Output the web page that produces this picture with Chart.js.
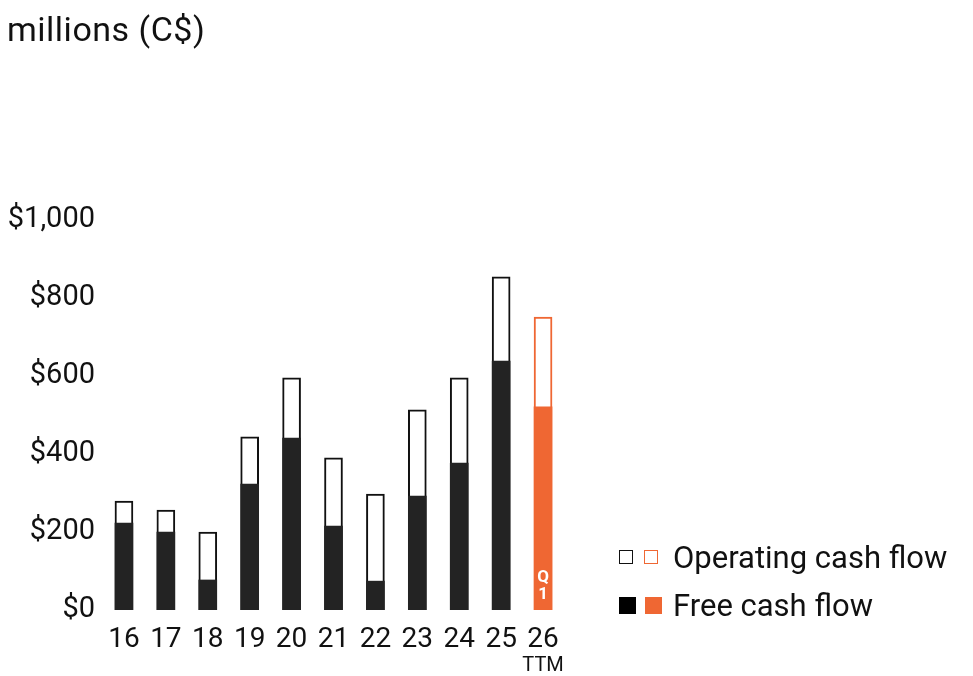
<!DOCTYPE html>
<html>
<head>
<meta charset="utf-8">
<script src="https://cdn.jsdelivr.net/npm/chart.js@4.4.1/dist/chart.umd.min.js"></script>
<style>
  html, body { margin: 0; padding: 0; background: #fff; }
  #wrap { position: relative; width: 973px; height: 676px; font-family: Roboto, "Noto Sans", sans-serif; color: #111; }
  #c { position: absolute; left: 0; top: 0; }
  #title { position: absolute; left: 7px; top: 8px; font-size: 34px; line-height: 42px; letter-spacing: 0.5px; color: #111; }
  .lg { position: absolute; left: 619px; display: flex; align-items: center; font-size: 31px; color: #111; white-space: nowrap; }
  .sq { box-sizing: border-box; display: inline-block; }
</style>
</head>
<body>
<div id="wrap">
  <canvas id="c" width="973" height="676"></canvas>
  <div id="title">millions (C$)</div>
  <div class="lg" style="top:536px;height:42px;">
    <span class="sq" style="width:14px;height:14px;border:1.5px solid #111;background:#fff;margin-right:11px;"></span>
    <span class="sq" style="width:14px;height:14px;border:1.5px solid #EF6733;background:#fff;margin-right:15px;"></span>
    <span>Operating cash flow</span>
  </div>
  <div class="lg" style="top:584px;height:42px;">
    <span class="sq" style="width:17px;height:17px;background:#000;margin-right:9px;"></span>
    <span class="sq" style="width:17px;height:17px;background:#EF6733;margin-right:11px;"></span>
    <span>Free cash flow</span>
  </div>
</div>
<script>
const categories = ['16','17','18','19','20','21','22','23','24','25','26'];
const operatingCashFlow = [279, 256, 200, 444, 595, 390, 297, 513, 595, 854, 751];
const freeCashFlow = [223, 200, 77, 323, 441, 215, 74, 292, 377, 638, 521];
const yTicks = [0, 200, 400, 600, 800, 1000];
const lastSubLabel = 'TTM';
const lastBarLabel = ['Q', '1'];

const DARK = '#232323';
const ORANGE = '#EF6733';
const n = categories.length;
const fillColors = categories.map((_, i) => i === n - 1 ? ORANGE : DARK);
const borderColors = categories.map((_, i) => i === n - 1 ? ORANGE : '#111');

const extraText = {
  id: 'extraText',
  afterDatasetsDraw(chart) {
    const ctx = chart.ctx;
    const x = chart.scales.x;
    const y = chart.scales.y;
    const px = x.getPixelForValue(n - 1);
    ctx.save();
    ctx.fillStyle = '#fff';
    ctx.font = 'bold 17px Roboto';
    ctx.textAlign = 'center';
    ctx.textBaseline = 'middle';
    ctx.fillText(lastBarLabel[0], px, y.getPixelForValue(0) - 32);
    ctx.fillText(lastBarLabel[1], px, y.getPixelForValue(0) - 15);
    ctx.fillStyle = '#111';
    ctx.font = '20px Roboto';
    ctx.fillText(lastSubLabel, px, 666);
    ctx.restore();
  }
};

new Chart(document.getElementById('c'), {
  type: 'bar',
  data: {
    labels: categories,
    datasets: [
      {
        label: 'Free cash flow',
        data: freeCashFlow,
        backgroundColor: fillColors,
        borderWidth: 0,
        grouped: false,
        order: 1
      },
      {
        label: 'Operating cash flow',
        data: operatingCashFlow,
        backgroundColor: '#fff',
        borderColor: borderColors,
        borderWidth: 2,
        borderSkipped: 'bottom',
        grouped: false,
        order: 2
      }
    ]
  },
  options: {
    responsive: false,
    animation: false,
    devicePixelRatio: 1,
    barThickness: 18,
    layout: { padding: { top: 220, right: 409, bottom: 0, left: 0 } },
    plugins: { legend: { display: false }, tooltip: { enabled: false }, title: { display: false } },
    scales: {
      x: {
        grid: { display: false, drawTicks: false },
        border: { display: false },
        ticks: { color: '#111', font: { family: 'Roboto', size: 28 }, padding: 13, maxRotation: 0, autoSkip: false },
        afterFit(s) { s.height = 66; }
      },
      y: {
        min: 0, max: 1000,
        grid: { display: false, drawTicks: false },
        border: { display: false },
        afterBuildTicks(s) { s.ticks = yTicks.map(v => ({ value: v })); },
        ticks: {
          color: '#111', font: { family: 'Roboto', size: 29 }, padding: 8,
          callback: v => '$' + v.toLocaleString('en-US')
        },
        afterFit(s) { s.width = 103; }
      }
    }
  },
  plugins: [extraText]
});
</script>
</body>
</html>
